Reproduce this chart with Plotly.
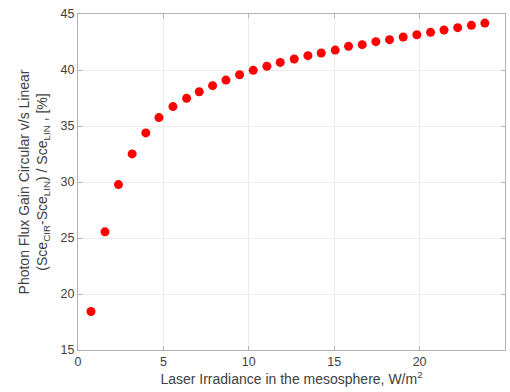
import plotly.graph_objects as go

# Laser irradiance (W/m^2) and corresponding photon flux gain (%)
irradiance = [0.76, 1.58, 2.37, 3.17, 3.97, 4.74, 5.56, 6.36, 7.10, 7.88,
              8.66, 9.46, 10.26, 11.06, 11.84, 12.66, 13.46, 14.24, 15.06, 15.84,
              16.64, 17.44, 18.24, 19.04, 19.84, 20.64, 21.43, 22.23, 23.03, 23.82]
flux_gain = [18.44, 25.55, 29.77, 32.51, 34.38, 35.75, 36.73, 37.47, 38.06, 38.60,
             39.10, 39.58, 39.97, 40.33, 40.68, 40.98, 41.28, 41.52, 41.78, 42.11,
             42.26, 42.53, 42.71, 42.95, 43.15, 43.36, 43.57, 43.78, 43.99, 44.19]

x_ticks = [0, 5, 10, 15, 20, 25]
y_ticks = [15, 20, 25, 30, 35, 40, 45]

fig = go.Figure(go.Scatter(
    x=irradiance, y=flux_gain, mode="markers",
    marker=dict(color="#ff0000", size=9, line=dict(width=0)),
))

axis_style = dict(
    showline=True, linecolor="#b3b3b3", linewidth=1, mirror="ticks",
    ticks="inside", ticklen=4, tickcolor="#b3b3b3",
    showgrid=True, gridcolor="#ebebeb", gridwidth=1, zeroline=False,
    tickfont=dict(family="Liberation Sans, Arial, sans-serif", size=12.5, color="#404040"),
)

fig.update_xaxes(
    range=[0, 25], tickvals=x_ticks,
    title=dict(text="Laser Irradiance in the mesosphere, W/m<sup>2</sup>",
               font=dict(size=14, color="#404040"), standoff=5),
    **axis_style,
)
fig.update_yaxes(
    range=[15, 45], tickvals=y_ticks,
    title=dict(text="Photon Flux Gain Circular v/s Linear<br>"
                    "(Sce<sub>CIR</sub>-Sce<sub>LIN</sub>) / Sce<sub>LIN</sub> , [%]",
               font=dict(size=14, color="#404040"), standoff=9),
    **axis_style,
)

fig.update_layout(
    width=510, height=392,
    margin=dict(l=78, r=5, t=14, b=42),
    paper_bgcolor="white", plot_bgcolor="white",
    font=dict(family="Liberation Sans, Arial, sans-serif", color="#404040"),
    showlegend=False,
)

fig.write_html("out.html")
